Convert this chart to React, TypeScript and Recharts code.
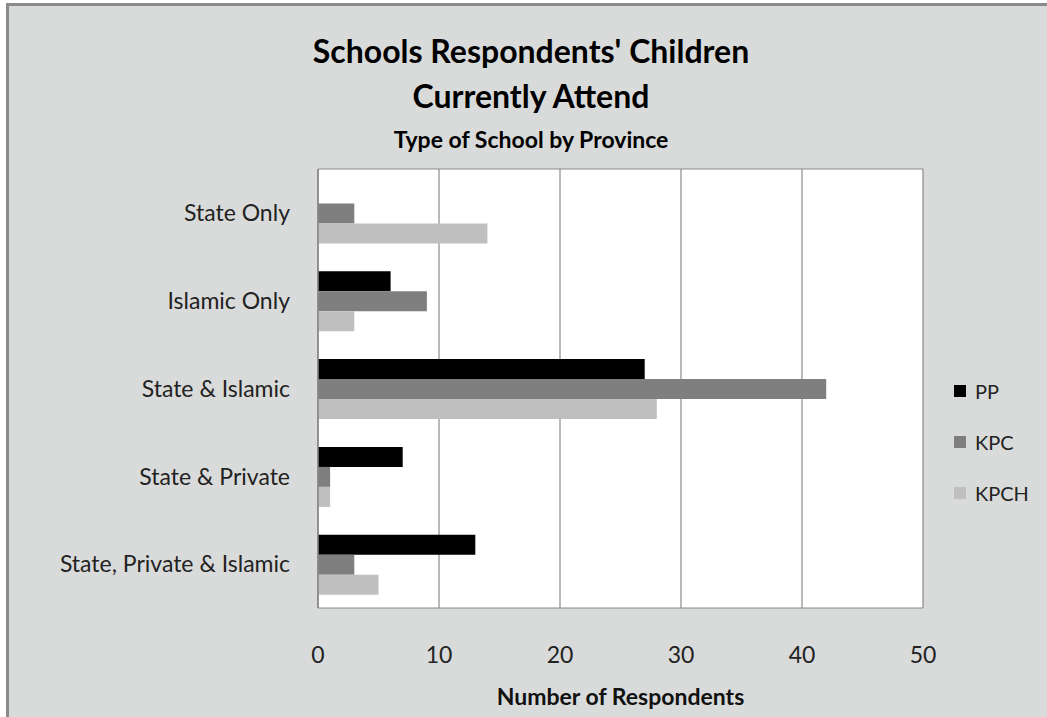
import React from 'react';
import { BarChart, Bar, XAxis, YAxis, CartesianGrid, Legend } from 'recharts';

const categories = ['State Only', 'Islamic Only', 'State & Islamic', 'State & Private', 'State, Private & Islamic'];
const ppValues = [0, 6, 27, 7, 13];
const kpcValues = [3, 9, 42, 1, 3];
const kpchValues = [14, 3, 28, 1, 5];
const xTicks = [0, 10, 20, 30, 40, 50];

const seriesNames = ['PP', 'KPC', 'KPCH'];
const seriesColors = ['#000000', '#7f7f7f', '#bfbfbf'];

const titleLines = ["Schools Respondents' Children", 'Currently Attend'];
const subtitle = 'Type of School by Province';
const xAxisTitle = 'Number of Respondents';

const data = categories.map((name, i) => ({
  name,
  PP: ppValues[i],
  KPC: kpcValues[i],
  KPCH: kpchValues[i],
}));

const FONT = 'Lato, "Open Sans", sans-serif';

const YTick = (props: any) => {
  const { x, y, payload } = props;
  return (
    <text x={x} y={y} dy="0.36em" textAnchor="end" fill="#222" fontFamily={FONT} fontSize={23}>
      {payload.value}
    </text>
  );
};

const XTick = (props: any) => {
  const { x, y, payload } = props;
  return (
    <text x={x} y={y} dy="0.36em" textAnchor="middle" fill="#222" fontFamily={FONT} fontSize={23}>
      {payload.value}
    </text>
  );
};

const LegendContent = (props: any) => {
  const payload = [...(props.payload || [])].sort(
    (a: any, b: any) => seriesNames.indexOf(a.value) - seriesNames.indexOf(b.value)
  );
  return (
    <div style={{ fontFamily: FONT }}>
      {payload.map((entry: any, i: number) => (
        <div key={i} style={{ display: 'flex', alignItems: 'center', height: 51 }}>
          <div style={{ width: 12, height: 12, background: entry.color, marginRight: 9 }} />
          <span style={{ fontSize: 20, color: '#222' }}>{entry.value}</span>
        </div>
      ))}
    </div>
  );
};

const AxisTitle = (props: any) => {
  const vb = props.viewBox || {};
  return (
    <text
      x={vb.x + vb.width / 2}
      y={705}
      textAnchor="middle"
      fontFamily={FONT}
      fontWeight="bold"
      fontSize={23}
      fill="#111"
    >
      {xAxisTitle}
    </text>
  );
};

export default function App() {
  return (
    <div style={{ position: 'absolute', left: 0, top: 0, width: 1047, height: 717, background: '#ffffff', overflow: 'hidden' }}>
      <div
        style={{
          position: 'absolute',
          left: 6,
          top: 3,
          width: 1047,
          height: 717,
          background: '#d9dbda',
          borderLeft: '3px solid #8b8b8b',
          borderTop: '3px solid #8b8b8b',
        }}
      />
      <div style={{ position: 'absolute', left: 0, top: 0 }}>
        <BarChart
          width={1047}
          height={717}
          data={data}
          layout="vertical"
          margin={{ top: 169, right: 124, bottom: 49, left: 18 }}
          barCategoryGap="16.5%"
          barGap={0}
        >
          <CartesianGrid
            fill="#ffffff"
            stroke="#8a8a8a"
            strokeWidth={1.2}
            horizontalCoordinatesGenerator={(p: any) => [p.offset.top, p.offset.top + p.offset.height]}
          />
          <XAxis
            type="number"
            domain={[0, 50]}
            ticks={xTicks}
            axisLine={false}
            tickLine={false}
            tickMargin={41}
            height={60}
            tick={<XTick />}
            label={<AxisTitle />}
          />
          <YAxis
            type="category"
            dataKey="name"
            width={300}
            axisLine={{ stroke: '#868686', strokeWidth: 1.5 }}
            tickLine={false}
            tickMargin={22}
            tick={<YTick />}
            interval={0}
          />
          <Legend
            layout="vertical"
            align="center"
            verticalAlign="middle"
            content={<LegendContent />}
            wrapperStyle={{ left: 954, top: 365, width: 90 }}
          />
          {seriesNames.map((s, i) => (
            <Bar key={s} dataKey={s} fill={seriesColors[i]} isAnimationActive={false} />
          ))}
        </BarChart>
      </div>
      <svg width={1047} height={717} style={{ position: 'absolute', left: 0, top: 0, pointerEvents: 'none' }}>
        <text x={531} y={63} textAnchor="middle" fontFamily={FONT} fontWeight="bold" fontSize={32} fill="#000">
          {titleLines[0]}
        </text>
        <text x={531} y={108} textAnchor="middle" fontFamily={FONT} fontWeight="bold" fontSize={32} fill="#000">
          {titleLines[1]}
        </text>
        <text x={531} y={148} textAnchor="middle" fontFamily={FONT} fontWeight="bold" fontSize={23} fill="#000">
          {subtitle}
        </text>
      </svg>
    </div>
  );
}
